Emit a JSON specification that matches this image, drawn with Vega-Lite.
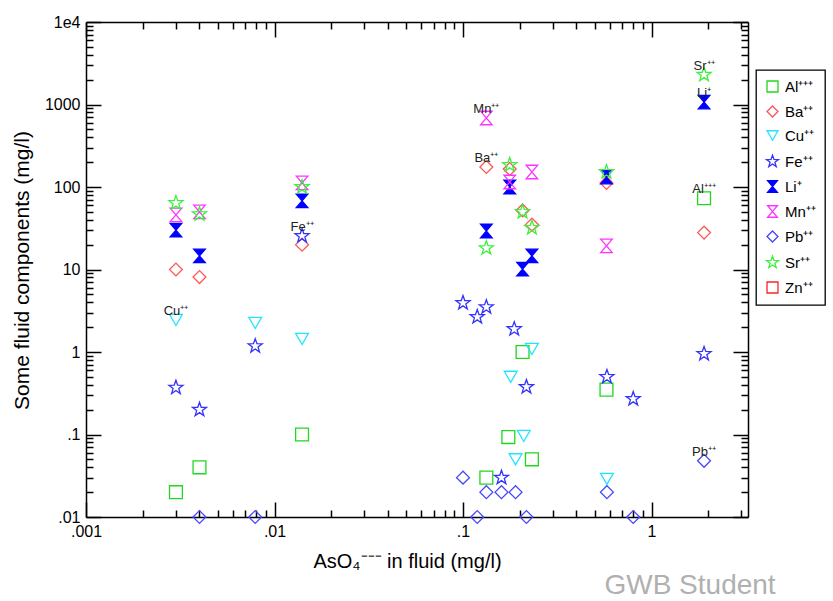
{
  "$schema": "https://vega.github.io/schema/vega-lite/v6.json",
  "width": 662,
  "height": 495,
  "autosize": {"type": "none"},
  "padding": {"left": 86, "top": 22, "right": 85, "bottom": 84},
  "title": {"text": "GWB Student", "orient": "bottom", "anchor": "end", "color": "#b0b0b0", "fontSize": 28, "fontWeight": "normal", "font": "Liberation Sans", "dx": -50, "offset": 1, "baseline": "top"},
  "datasets": {
    "pts": [
      {"ion": "Al⁺⁺⁺", "as": 0.003, "conc": 0.02},
      {"ion": "Al⁺⁺⁺", "as": 0.004, "conc": 0.04},
      {"ion": "Al⁺⁺⁺", "as": 0.014, "conc": 0.1},
      {"ion": "Al⁺⁺⁺", "as": 0.133, "conc": 0.03},
      {"ion": "Al⁺⁺⁺", "as": 0.174, "conc": 0.093},
      {"ion": "Al⁺⁺⁺", "as": 0.207, "conc": 1.0},
      {"ion": "Al⁺⁺⁺", "as": 0.232, "conc": 0.05},
      {"ion": "Al⁺⁺⁺", "as": 0.577, "conc": 0.35},
      {"ion": "Al⁺⁺⁺", "as": 1.9, "conc": 73},
      {"ion": "Ba⁺⁺", "as": 0.003, "conc": 10},
      {"ion": "Ba⁺⁺", "as": 0.004, "conc": 8.1},
      {"ion": "Ba⁺⁺", "as": 0.014, "conc": 20},
      {"ion": "Ba⁺⁺", "as": 0.133, "conc": 175},
      {"ion": "Ba⁺⁺", "as": 0.177, "conc": 165},
      {"ion": "Ba⁺⁺", "as": 0.207, "conc": 52},
      {"ion": "Ba⁺⁺", "as": 0.232, "conc": 35},
      {"ion": "Ba⁺⁺", "as": 0.577, "conc": 112},
      {"ion": "Ba⁺⁺", "as": 1.9, "conc": 28},
      {"ion": "Cu⁺⁺", "as": 0.003, "conc": 2.45},
      {"ion": "Cu⁺⁺", "as": 0.0079, "conc": 2.25},
      {"ion": "Cu⁺⁺", "as": 0.014, "conc": 1.44},
      {"ion": "Cu⁺⁺", "as": 0.179, "conc": 0.5},
      {"ion": "Cu⁺⁺", "as": 0.19, "conc": 0.05},
      {"ion": "Cu⁺⁺", "as": 0.21, "conc": 0.096},
      {"ion": "Cu⁺⁺", "as": 0.232, "conc": 1.09},
      {"ion": "Cu⁺⁺", "as": 0.58, "conc": 0.029},
      {"ion": "Fe⁺⁺", "as": 0.003, "conc": 0.37},
      {"ion": "Fe⁺⁺", "as": 0.004, "conc": 0.2},
      {"ion": "Fe⁺⁺", "as": 0.0079, "conc": 1.18},
      {"ion": "Fe⁺⁺", "as": 0.014, "conc": 25.5},
      {"ion": "Fe⁺⁺", "as": 0.1, "conc": 3.93},
      {"ion": "Fe⁺⁺", "as": 0.119, "conc": 2.66},
      {"ion": "Fe⁺⁺", "as": 0.133, "conc": 3.5},
      {"ion": "Fe⁺⁺", "as": 0.16, "conc": 0.03},
      {"ion": "Fe⁺⁺", "as": 0.187, "conc": 1.9},
      {"ion": "Fe⁺⁺", "as": 0.217, "conc": 0.377},
      {"ion": "Fe⁺⁺", "as": 0.58, "conc": 0.5},
      {"ion": "Fe⁺⁺", "as": 0.8, "conc": 0.27},
      {"ion": "Fe⁺⁺", "as": 1.9, "conc": 0.95},
      {"ion": "Li⁺", "as": 0.003, "conc": 30},
      {"ion": "Li⁺", "as": 0.004, "conc": 14.6},
      {"ion": "Li⁺", "as": 0.014, "conc": 68},
      {"ion": "Li⁺", "as": 0.133, "conc": 29.3},
      {"ion": "Li⁺", "as": 0.177, "conc": 100},
      {"ion": "Li⁺", "as": 0.207, "conc": 10.1},
      {"ion": "Li⁺", "as": 0.232, "conc": 14.6},
      {"ion": "Li⁺", "as": 0.577, "conc": 132},
      {"ion": "Li⁺", "as": 1.9, "conc": 1070},
      {"ion": "Mn⁺⁺", "as": 0.003, "conc": 46},
      {"ion": "Mn⁺⁺", "as": 0.004, "conc": 50},
      {"ion": "Mn⁺⁺", "as": 0.014, "conc": 112},
      {"ion": "Mn⁺⁺", "as": 0.133, "conc": 686},
      {"ion": "Mn⁺⁺", "as": 0.177, "conc": 115},
      {"ion": "Mn⁺⁺", "as": 0.232, "conc": 152},
      {"ion": "Mn⁺⁺", "as": 0.577, "conc": 19.3},
      {"ion": "Pb⁺⁺", "as": 0.004, "conc": 0.01},
      {"ion": "Pb⁺⁺", "as": 0.0079, "conc": 0.01},
      {"ion": "Pb⁺⁺", "as": 0.1, "conc": 0.03},
      {"ion": "Pb⁺⁺", "as": 0.119, "conc": 0.01},
      {"ion": "Pb⁺⁺", "as": 0.133, "conc": 0.02},
      {"ion": "Pb⁺⁺", "as": 0.16, "conc": 0.02},
      {"ion": "Pb⁺⁺", "as": 0.19, "conc": 0.02},
      {"ion": "Pb⁺⁺", "as": 0.217, "conc": 0.01},
      {"ion": "Pb⁺⁺", "as": 0.58, "conc": 0.02},
      {"ion": "Pb⁺⁺", "as": 0.8, "conc": 0.01},
      {"ion": "Pb⁺⁺", "as": 1.9, "conc": 0.048},
      {"ion": "Sr⁺⁺", "as": 0.003, "conc": 64},
      {"ion": "Sr⁺⁺", "as": 0.004, "conc": 47},
      {"ion": "Sr⁺⁺", "as": 0.014, "conc": 100},
      {"ion": "Sr⁺⁺", "as": 0.133, "conc": 18.2},
      {"ion": "Sr⁺⁺", "as": 0.177, "conc": 185},
      {"ion": "Sr⁺⁺", "as": 0.207, "conc": 50},
      {"ion": "Sr⁺⁺", "as": 0.232, "conc": 32},
      {"ion": "Sr⁺⁺", "as": 0.577, "conc": 152},
      {"ion": "Sr⁺⁺", "as": 1.9, "conc": 2300}
    ],
    "lbl": [
      {"label": "Cu⁺⁺", "as": 0.003, "conc": 2.45},
      {"label": "Fe⁺⁺", "as": 0.014, "conc": 25.5},
      {"label": "Mn⁺⁺", "as": 0.133, "conc": 686},
      {"label": "Ba⁺⁺", "as": 0.133, "conc": 175},
      {"label": "Sr⁺⁺", "as": 1.9, "conc": 2300},
      {"label": "Li⁺", "as": 1.9, "conc": 1070},
      {"label": "Al⁺⁺⁺", "as": 1.9, "conc": 73},
      {"label": "Pb⁺⁺", "as": 1.9, "conc": 0.048}
    ]
  },
  "layer": [
    {
      "data": {"name": "pts"},
      "mark": {"type": "point", "filled": false, "strokeWidth": 1.3, "size": 165, "opacity": 1},
      "encoding": {
        "x": {
          "field": "as", "type": "quantitative",
          "scale": {"type": "log", "domain": [0.001, 3.25], "nice": false, "zero": false},
          "axis": {
            "orient": "bottom",
            "values": [0.001,0.002,0.003,0.004,0.005,0.006,0.007,0.008,0.009,0.01,0.02,0.03,0.04,0.05,0.06,0.07,0.08,0.09,0.1,0.2,0.3,0.4,0.5,0.6,0.7,0.8,0.9,1,2,3],
            "labelExpr": "datum.value == 0.001 ? '.001' : datum.value == 0.01 ? '.01' : datum.value == 0.1 ? '.1' : datum.value == 1 ? '1' : ''",
            "tickSize": {"condition": {"test": "abs(log(datum.value)/LN10 - round(log(datum.value)/LN10)) < 0.001", "value": -15}, "value": -7},
            "labelPadding": 21,
            "title": "AsO₄⁻⁻⁻ in fluid (mg/l)",
            "titleX": 321, "titleY": 44, "titleBaseline": "middle", "titleAlign": "center"
          }
        },
        "y": {
          "field": "conc", "type": "quantitative",
          "scale": {"type": "log", "domain": [0.01, 10000], "nice": false, "zero": false},
          "axis": {
            "orient": "left",
            "values": [0.01,0.02,0.03,0.04,0.05,0.06,0.07,0.08,0.09,0.1,0.2,0.3,0.4,0.5,0.6,0.7,0.8,0.9,1,2,3,4,5,6,7,8,9,10,20,30,40,50,60,70,80,90,100,200,300,400,500,600,700,800,900,1000,2000,3000,4000,5000,6000,7000,8000,9000,10000],
            "labelExpr": "datum.value == 10000 ? '1e4' : datum.value == 1000 ? '1000' : datum.value == 100 ? '100' : datum.value == 10 ? '10' : datum.value == 1 ? '1' : datum.value == 0.1 ? '.1' : datum.value == 0.01 ? '.01' : ''",
            "tickSize": {"condition": {"test": "abs(log(datum.value)/LN10 - round(log(datum.value)/LN10)) < 0.001", "value": -15}, "value": -7},
            "labelPadding": 21,
            "title": "Some fluid components (mg/l)",
            "titleX": -64, "titleY": 248, "titleBaseline": "middle", "titleAlign": "center", "titleAngle": -90, "titleFontSize": 21
          }
        },
        "stroke": {
          "field": "ion", "type": "nominal", "title": null,
          "scale": {"domain": ["Al⁺⁺⁺","Ba⁺⁺","Cu⁺⁺","Fe⁺⁺","Li⁺","Mn⁺⁺","Pb⁺⁺","Sr⁺⁺","Zn⁺⁺"],
                    "range": ["#1fd81f","#ff5555","#22e4ff","#3333ff","#0000ff","#ff33ff","#4646ff","#3cf03c","#ff2222"]}
        },
        "fill": {
          "field": "ion", "type": "nominal", "title": null,
          "scale": {"domain": ["Al⁺⁺⁺","Ba⁺⁺","Cu⁺⁺","Fe⁺⁺","Li⁺","Mn⁺⁺","Pb⁺⁺","Sr⁺⁺","Zn⁺⁺"],
                    "range": ["transparent","transparent","transparent","transparent","#0000ff","transparent","transparent","transparent","transparent"]}
        },
        "shape": {
          "field": "ion", "type": "nominal", "title": null,
          "scale": {"domain": ["Al⁺⁺⁺","Ba⁺⁺","Cu⁺⁺","Fe⁺⁺","Li⁺","Mn⁺⁺","Pb⁺⁺","Sr⁺⁺","Zn⁺⁺"],
                    "range": ["square","diamond","triangle-down",
                              "M0,-1.15L0.27,-0.372L1.094,-0.355L0.437,0.142L0.676,0.93L0,0.46L-0.676,0.93L-0.437,0.142L-1.094,-0.355L-0.27,-0.372Z",
                              "M-0.9,-1.05L0.9,-1.05L-0.9,1.05L0.9,1.05Z",
                              "M-0.9,-1.05L0.9,-1.05L-0.9,1.05L0.9,1.05Z",
                              "diamond",
                              "M0,-1.15L0.27,-0.372L1.094,-0.355L0.437,0.142L0.676,0.93L0,0.46L-0.676,0.93L-0.437,0.142L-1.094,-0.355L-0.27,-0.372Z",
                              "square"]}
        }
      }
    },
    {
      "data": {"name": "lbl"},
      "mark": {"type": "text", "align": "center", "baseline": "alphabetic", "dy": -5, "fontSize": 13, "color": "#222222", "font": "Liberation Sans"},
      "encoding": {
        "x": {
          "field": "as", "type": "quantitative",
          "scale": {"type": "log", "domain": [0.001, 3.25], "nice": false, "zero": false},
          "axis": {
            "orient": "top", "labels": false, "title": null,
            "values": [0.001,0.002,0.003,0.004,0.005,0.006,0.007,0.008,0.009,0.01,0.02,0.03,0.04,0.05,0.06,0.07,0.08,0.09,0.1,0.2,0.3,0.4,0.5,0.6,0.7,0.8,0.9,1,2,3],
            "tickSize": {"condition": {"test": "abs(log(datum.value)/LN10 - round(log(datum.value)/LN10)) < 0.001", "value": -15}, "value": -7}
          }
        },
        "y": {
          "field": "conc", "type": "quantitative",
          "scale": {"type": "log", "domain": [0.01, 10000], "nice": false, "zero": false},
          "axis": {
            "orient": "right", "labels": false, "title": null,
            "values": [0.01,0.02,0.03,0.04,0.05,0.06,0.07,0.08,0.09,0.1,0.2,0.3,0.4,0.5,0.6,0.7,0.8,0.9,1,2,3,4,5,6,7,8,9,10,20,30,40,50,60,70,80,90,100,200,300,400,500,600,700,800,900,1000,2000,3000,4000,5000,6000,7000,8000,9000,10000],
            "tickSize": {"condition": {"test": "abs(log(datum.value)/LN10 - round(log(datum.value)/LN10)) < 0.001", "value": -15}, "value": -7}
          }
        },
        "text": {"field": "label", "type": "nominal"}
      }
    }
  ],
  "resolve": {"axis": {"x": "independent", "y": "independent"}},
  "config": {
    "font": "Liberation Sans",
    "view": {"stroke": null},
    "axis": {
      "domainColor": "black", "domainWidth": 1.5, "tickColor": "black", "tickWidth": 1.5,
      "labelColor": "black", "labelFont": "Liberation Sans", "labelFontSize": 16,
      "labelOverlap": false, "labelFlush": false, "labelBound": false,
      "titleColor": "black", "titleFont": "Liberation Sans", "titleFontSize": 20, "titleFontWeight": "normal",
      "grid": false
    },
    "legend": {
      "orient": "none", "legendX": 670, "legendY": 48,
      "strokeColor": "black", "strokeWidth": 1.3, "fillColor": "white",
      "padding": 9, "rowPadding": 8,
      "labelFont": "Liberation Sans", "labelFontSize": 15, "labelColor": "black", "labelOffset": 5,
      "symbolSize": 120, "symbolStrokeWidth": 1.3
    }
  }
}
